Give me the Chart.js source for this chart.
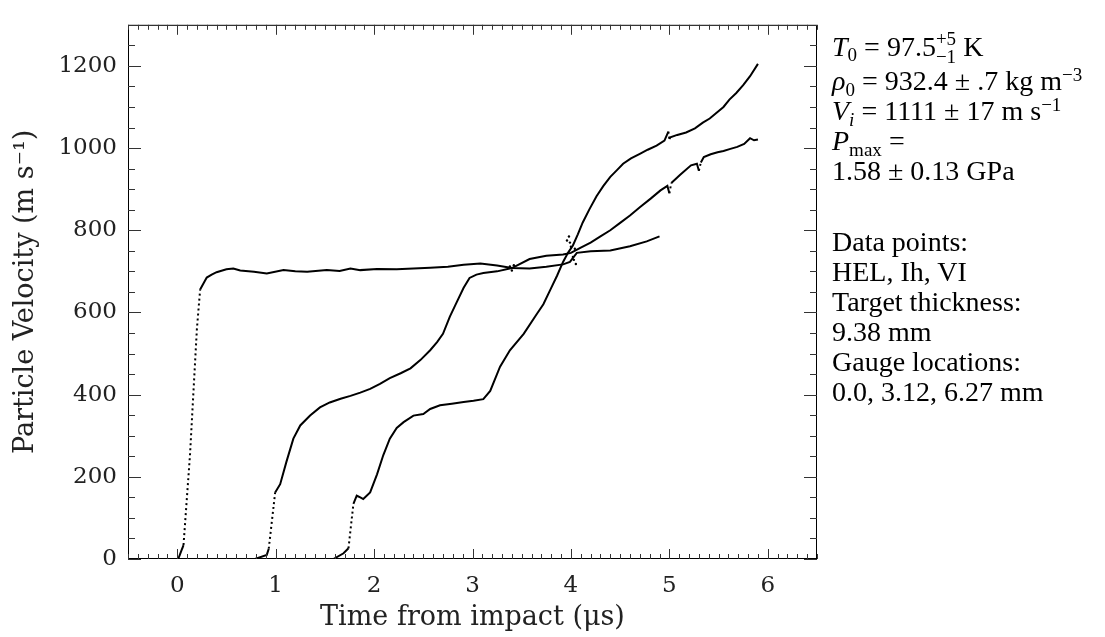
<!DOCTYPE html>
<html>
<head>
<meta charset="utf-8">
<script src="https://cdn.jsdelivr.net/npm/chart.js@4.4.1/dist/chart.umd.min.js"></script>
<style>
	body { margin: 0; background: #fff; }
	.wrap { position: relative; width: 1105px; height: 637px; }
	.notes { position: absolute; left: 832px; font-family: "Liberation Serif", serif; font-size: 28px; line-height: 30px; color: #000; white-space: nowrap; }
	.notes sup { font-size: 0.68em; vertical-align: 0; position: relative; top: -0.5em; line-height: 0; }
	.notes sub { font-size: 0.68em; vertical-align: 0; position: relative; top: 0.28em; line-height: 0; }
	.stack { display: inline-block; vertical-align: -0.38em; font-size: 0.68em; line-height: 0.95em; }
	.stack span { display: block; }
</style>
</head>
<body>
<div class="wrap">
	<canvas id="chart" width="1105" height="637"></canvas>
	<div class="notes" style="top: 30px;">
		<div><i>T</i><sub>0</sub> = 97.5<span class="stack"><span>+5</span><span>−1</span></span> K</div>
		<div><i>ρ</i><sub>0</sub> = 932.4 ± .7 kg m<sup>−3</sup></div>
		<div><i>V</i><sub><i>i</i></sub> = 1111 ± 17 m s<sup>−1</sup></div>
		<div><i>P</i><sub>max</sub> =</div>
		<div>1.58 ± 0.13 GPa</div>
	</div>
	<div class="notes" style="top: 227px;">
		<div>Data points:</div>
		<div>HEL, Ih, VI</div>
		<div>Target thickness:</div>
		<div>9.38 mm</div>
		<div>Gauge locations:</div>
		<div>0.0, 3.12, 6.27 mm</div>
	</div>
</div>
<script>
// gauge at 0.0 mm
var gauge1Time = [0.01, 0.064, 0.13, 0.20, 0.233, 0.30, 0.35, 0.40, 0.50, 0.57, 0.64, 0.78, 0.91, 1.08, 1.20, 1.32, 1.52, 1.65, 1.76, 1.86, 2.03, 2.23, 2.40, 2.57, 2.75, 2.91, 3.08, 3.25, 3.40, 3.58, 3.75, 3.92, 3.99, 4.06, 4.20, 4.40, 4.60, 4.77, 4.90];
var gauge1Vel = [0, 34, 254, 560, 656, 685, 692, 698, 705, 707, 702, 699, 695, 703, 700, 699, 703, 701, 707, 703, 706, 705, 707, 709, 711, 716, 719, 714, 708, 707, 711, 717, 723, 745, 749, 751, 761, 773, 785];

// gauge at 3.12 mm
var gauge2Time = [0.79, 0.91, 0.93, 0.995, 1.046, 1.11, 1.18, 1.25, 1.35, 1.45, 1.55, 1.66, 1.76, 1.86, 1.96, 2.06, 2.16, 2.27, 2.37, 2.47, 2.57, 2.64, 2.70, 2.77, 2.84, 2.91, 2.97, 3.04, 3.11, 3.25, 3.40, 3.58, 3.75, 3.92, 4.00, 4.10, 4.20, 4.30, 4.40, 4.50, 4.60, 4.70, 4.81, 4.91, 4.98, 5.00, 5.02, 5.11, 5.22, 5.28, 5.30, 5.32, 5.35, 5.42, 5.49, 5.55, 5.62, 5.69, 5.76, 5.82, 5.86, 5.90];
var gauge2Vel = [0, 10, 25, 162, 182, 237, 293, 325, 349, 369, 381, 390, 397, 405, 414, 426, 440, 452, 464, 484, 508, 528, 548, 590, 625, 660, 684, 692, 696, 700, 708, 730, 738, 741, 745, 758, 770, 785, 800, 818, 836, 856, 877, 897, 908, 890, 915, 935, 958, 962, 945, 965, 978, 985, 990, 993, 998, 1003, 1010, 1024, 1019, 1021];

// gauge at 6.27 mm
var gauge3Time = [1.587, 1.69, 1.74, 1.79, 1.824, 1.86, 1.89, 1.96, 2.03, 2.094, 2.16, 2.23, 2.30, 2.40, 2.50, 2.57, 2.67, 2.79, 2.91, 3.01, 3.11, 3.18, 3.28, 3.38, 3.52, 3.65, 3.72, 3.79, 3.86, 3.92, 3.97, 4.02, 4.07, 4.12, 4.19, 4.26, 4.33, 4.40, 4.47, 4.53, 4.61, 4.70, 4.78, 4.87, 4.95, 4.99, 5.00, 5.01, 5.08, 5.17, 5.26, 5.34, 5.41, 5.48, 5.55, 5.61, 5.68, 5.75, 5.82, 5.90];
var gauge3Vel = [0, 14, 26, 134, 154, 150, 146, 162, 206, 253, 293, 319, 333, 349, 353, 365, 374, 378, 382, 385, 389, 409, 468, 508, 548, 595, 620, 655, 690, 723, 745, 763, 790, 819, 852, 883, 908, 930, 947, 962, 975, 986, 996, 1006, 1018, 1040, 1022, 1026, 1032, 1038, 1048, 1062, 1072, 1086, 1100, 1118, 1134, 1153, 1175, 1205];

// stray samples where the three records cross
var strayTime = [3.38, 3.40, 3.42, 3.96, 3.98, 3.99, 4.00, 4.02, 4.03, 4.04, 4.05];
var strayVel = [712, 702, 715, 775, 785, 770, 760, 735, 728, 755, 718];

var xTicks = [0, 1, 2, 3, 4, 5, 6];
var yTicks = [0, 200, 400, 600, 800, 1000, 1200];
var xRange = [-0.5, 6.5];
var yRange = [0, 1300];

var tickFont = { family: 'DejaVu Serif', size: 23 };
var titleFont = { family: 'DejaVu Serif', size: 27 };

function points(times, vels) {
	return times.map(function (t, i) {
		return { x: t, y: vels[i] };
	});
}

function gaugeSet(times, vels) {
	return {
		data: points(times, vels),
		showLine: true,
		borderColor: '#000',
		borderWidth: 2,
		pointRadius: 0,
		segment: {
			// steep rises were sparse samples in the original, so they read as dots
			borderDash: function (ctx) {
				var dx = Math.abs(ctx.p1.x - ctx.p0.x);
				var dy = Math.abs(ctx.p1.y - ctx.p0.y);
				return dy > 4 * dx ? [2, 3] : undefined;
			}
		}
	};
}

// box frame with inward major/minor ticks on all four sides
var frameTicks = {
	id: 'frameTicks',
	afterDraw: function (chart) {
		var ctx = chart.ctx;
		var a = chart.chartArea;
		var xs = chart.scales.x;
		var ys = chart.scales.y;
		ctx.save();
		ctx.strokeStyle = '#000';
		ctx.lineWidth = 1;
		ctx.strokeRect(a.left + 0.5, a.top + 0.5, a.right - a.left - 1, a.bottom - a.top - 1);
		ctx.strokeStyle = '#333';
		ctx.beginPath();
		var i, v, p, len;
		for (i = 0; i <= 70; i++) {
			v = xRange[0] + i * 0.1;
			p = Math.round(xs.getPixelForValue(v)) + 0.5;
			len = Math.abs(v - Math.round(v)) < 1e-6 ? 10 : 5;
			ctx.moveTo(p, a.bottom);
			ctx.lineTo(p, a.bottom - len);
			ctx.moveTo(p, a.top);
			ctx.lineTo(p, a.top + len);
		}
		for (i = 0; i <= 26; i++) {
			v = i * 50;
			p = Math.round(ys.getPixelForValue(v)) + 0.5;
			len = v % 200 === 0 ? 13 : 7;
			ctx.moveTo(a.left, p);
			ctx.lineTo(a.left + len, p);
			ctx.moveTo(a.right, p);
			ctx.lineTo(a.right - len, p);
		}
		ctx.stroke();
		ctx.restore();
	}
};

new Chart(document.getElementById('chart'), {
	type: 'scatter',
	data: {
		datasets: [
			gaugeSet(gauge1Time, gauge1Vel),
			gaugeSet(gauge2Time, gauge2Vel),
			gaugeSet(gauge3Time, gauge3Vel),
			{
				data: points(strayTime, strayVel),
				showLine: false,
				pointRadius: 1.2,
				borderWidth: 0,
				backgroundColor: '#000'
			}
		]
	},
	options: {
		responsive: false,
		animation: false,
		layout: { padding: { top: 15, right: 288, left: 0, bottom: 0 } },
		plugins: { legend: { display: false }, tooltip: { enabled: false } },
		scales: {
			x: {
				type: 'linear',
				min: xRange[0],
				max: xRange[1],
				afterBuildTicks: function (scale) {
					scale.ticks = xTicks.map(function (v) { return { value: v }; });
				},
				afterFit: function (scale) { scale.height = 78; },
				grid: { display: false, drawTicks: false },
				border: { display: false },
				ticks: {
					font: tickFont,
					color: '#222',
					padding: 13,
					maxRotation: 0,
					callback: function (v) { return String(v); }
				},
				title: {
					display: true,
					text: 'Time from impact (μs)',
					font: titleFont,
					color: '#222',
					padding: { top: 0, bottom: 3 }
				}
			},
			y: {
				type: 'linear',
				min: yRange[0],
				max: yRange[1],
				afterBuildTicks: function (scale) {
					scale.ticks = yTicks.map(function (v) { return { value: v }; });
				},
				afterFit: function (scale) { scale.width = 128; },
				grid: { display: false, drawTicks: false },
				border: { display: false },
				ticks: {
					font: tickFont,
					color: '#222',
					padding: 11,
					callback: function (v) { return String(v); }
				},
				title: {
					display: true,
					text: 'Particle Velocity (m s⁻¹)',
					font: titleFont,
					color: '#222',
					padding: { top: 10, bottom: 0 }
				}
			}
		}
	},
	plugins: [frameTicks]
});
</script>
</body>
</html>
